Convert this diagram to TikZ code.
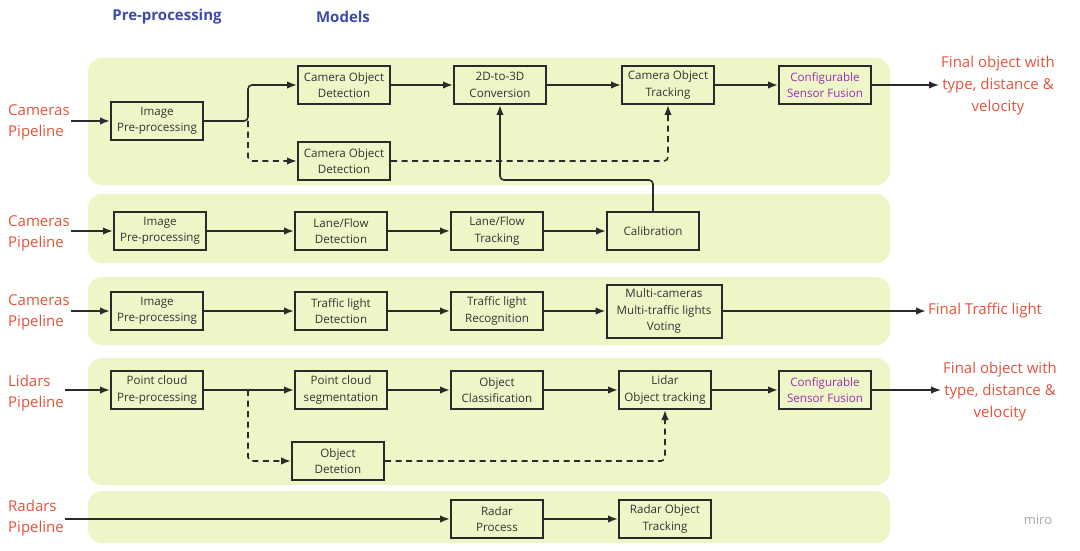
\documentclass[tikz,border=0pt]{standalone}
\usepackage{fontspec}
\setmainfont{Open Sans}
\usetikzlibrary{arrows.meta}
\definecolor{bandc}{HTML}{EEF6C8}
\definecolor{boxc}{HTML}{2A2A2A}
\definecolor{txtc}{HTML}{333333}
\definecolor{redc}{HTML}{E5533C}
\definecolor{bluec}{HTML}{3D4BAA}
\definecolor{purc}{HTML}{9B2FAE}
\definecolor{miroc}{HTML}{A8A8A8}
\tikzset{
  band/.style={fill=bandc, rounded corners=14pt},
  box/.style={draw=boxc, line width=2pt, minimum width=92pt, minimum height=38pt,
    inner sep=1pt, align=center, text=txtc, font=\fontsize{11.6}{16.5}\selectfont},
  lab/.style={text=redc, align=left, anchor=west, inner sep=1pt, font=\fontsize{15}{21}\selectfont},
  fin/.style={text=redc, align=center, inner sep=2pt, font=\fontsize{15}{22}\selectfont},
  hdr/.style={text=bluec, font=\bfseries\fontsize{15}{18}\selectfont},
  arr/.style={draw=boxc, line width=1.6pt, -{Latex[length=10pt,width=7.5pt]}},
  darr/.style={arr, dash pattern=on 6pt off 4.5pt},
  fus/.style={box, text=purc}
}
\begin{document}
\begin{tikzpicture}[x=1pt,y=-1pt]
\useasboundingbox (0,0) rectangle (1080,551);
\fill[white] (0,0) rectangle (1080,551);
% bands
\fill[band] (88,58) rectangle (890,185);
\fill[band] (88,194) rectangle (890,263);
\fill[band] (88,277) rectangle (890,345);
\fill[band] (88,358) rectangle (890,485);
\fill[band] (88,491) rectangle (890,543);
% headers
\node[hdr] (h1) at (167,17) {Pre-processing};
\node[hdr] (h2) at (343,17) {Models};
% labels
\node[lab] (l1) at (7,122) {Cameras\\Pipeline};
\node[lab] (l2) at (7,233) {Cameras\\Pipeline};
\node[lab] (l3) at (7,312) {Cameras\\Pipeline};
\node[lab] (l4) at (7,393) {Lidars\\Pipeline};
\node[lab] (l5) at (7,518) {Radars\\Pipeline};
% band 1
\node[box] (ipp1) at (157,121) {Image\\Pre-processing};
\node[box] (cod1) at (344,85) {Camera Object\\Detection};
\node[box] (conv) at (500,85) {2D-to-3D\\Conversion};
\node[box] (cot) at (668,85) {Camera Object\\Tracking};
\node[fus] (csf1) at (825,85) {Configurable\\Sensor Fusion};
\node[box] (cod2) at (344,161) {Camera Object\\Detection};
\node[fin] (fin1) at (998,86) {Final object with\\type, distance \&\\velocity};
\coordinate (br1) at (248,121);
\draw[arr] (ipp1.west -| l1.east) -- (ipp1.west);
\draw[arr, rounded corners=4pt] (ipp1.east) -- (br1) |- (cod1.west);
\draw[darr, rounded corners=4pt] (br1) |- (cod2.west);
\draw[arr] (cod1) -- (conv);
\draw[arr] (conv) -- (cot);
\draw[arr] (cot) -- (csf1);
\draw[darr, rounded corners=4pt] (cod2.east) -| (cot.south);
\draw[arr] (csf1.east) -- (csf1.east -| fin1.west);
% band 2
\node[box] (ipp2) at (160,231) {Image\\Pre-processing};
\node[box] (lfd) at (341,231) {Lane/Flow\\Detection};
\node[box] (lft) at (497,231) {Lane/Flow\\Tracking};
\node[box] (cal) at (653,231) {Calibration};
\coordinate (calup) at (653,180);
\draw[arr] (ipp2.west -| l2.east) -- (ipp2.west);
\draw[arr] (ipp2) -- (lfd);
\draw[arr] (lfd) -- (lft);
\draw[arr] (lft) -- (cal);
\draw[arr, rounded corners=4pt] (cal.north) -- (calup) -| (conv.south);
% band 3
\node[box] (ipp3) at (157,311) {Image\\Pre-processing};
\node[box] (tld) at (341,311) {Traffic light\\Detection};
\node[box] (tlr) at (497,311) {Traffic light\\Recognition};
\node[box, minimum width=115pt, minimum height=53pt] (vote) at (664,311) {Multi-cameras\\Multi-traffic lights\\Voting};
\node[fin, anchor=west] (fin2) at (926,311) {Final Traffic light};
\draw[arr] (ipp3.west -| l3.east) -- (ipp3.west);
\draw[arr] (ipp3) -- (tld);
\draw[arr] (tld) -- (tlr);
\draw[arr] (tlr) -- (vote);
\draw[arr] (vote.east) -- (fin2.west);
% band 4
\node[box] (pcp) at (157,390) {Point cloud\\Pre-processing};
\node[box] (pcs) at (341,390) {Point cloud\\segmentation};
\node[box] (ocl) at (497,390) {Object\\Classification};
\node[box] (lot) at (665,390) {Lidar\\Object tracking};
\node[fus] (csf2) at (825,390) {Configurable\\Sensor Fusion};
\node[box] (odt) at (338,461) {Object\\Detetion};
\node[fin] (fin3) at (1000,392) {Final object with\\type, distance \&\\velocity};
\coordinate (br2) at (248,390);
\draw[arr] (pcp.west -| l4.east) -- (pcp.west);
\draw[arr] (pcp) -- (pcs);
\draw[arr] (pcs) -- (ocl);
\draw[arr] (ocl) -- (lot);
\draw[arr] (lot) -- (csf2);
\draw[arr] (csf2.east) -- (csf2.east -| fin3.west);
\draw[darr, rounded corners=4pt] (br2) |- (odt.west);
\draw[darr, rounded corners=4pt] (odt.east) -| (lot.south);
% band 5
\node[box] (rp) at (497,519) {Radar\\Process};
\node[box] (rot) at (665,519) {Radar Object\\Tracking};
\draw[arr] (rp.west -| l5.east) -- (rp.west);
\draw[arr] (rp) -- (rot);
\node[text=miroc, font=\fontsize{13}{15}\selectfont] (miro) at (1038,520) {miro};
\end{tikzpicture}
\end{document}
